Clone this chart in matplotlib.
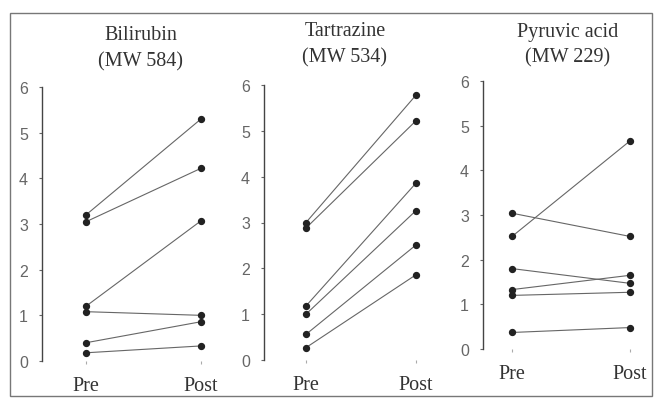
"""
Pre/post paired plots for three compounds (scanned figure recreation).
"""

import matplotlib

matplotlib.use("Agg")
import matplotlib.pyplot as plt
from matplotlib.patches import Rectangle

# Data
titles = [("Bilirubin", "(MW 584)"), ("Tartrazine", "(MW 534)"), ("Pyruvic acid", "(MW 229)")]
x_labels = ["Pre", "Post"]
y_ticks = [0, 1, 2, 3, 4, 5, 6]

bili_pre = [3.2, 3.05, 1.2, 1.08, 0.4, 0.18]
bili_post = [5.3, 4.22, 3.07, 1.0, 0.86, 0.33]

tart_pre = [3.0, 2.88, 1.18, 1.0, 0.56, 0.27]
tart_post = [5.78, 5.22, 3.86, 3.26, 2.51, 1.86]

pyr_pre = [3.04, 2.52, 1.8, 1.33, 1.2, 0.37]
pyr_post = [2.52, 4.66, 1.47, 1.65, 1.27, 0.48]

W, H = 657, 402
fig = plt.figure(figsize=(W / 100, H / 100), dpi=100)
fig.patch.set_facecolor("white")

# panel boxes in pixels: left, right, top, bottom, xlim
panels = [
    (42, 224, 88, 362, (-0.383, 1.20)),
    (264, 438, 86, 361, (-0.382, 1.20)),
    (483, 648, 82, 350, (-0.246, 1.152)),
]
# title placement in pixels: centre x, first line y, second line y
title_pos = [(141, 36, 62), (345, 32, 58), (568, 32, 58)]
series = [(bili_pre, bili_post), (tart_pre, tart_post), (pyr_pre, pyr_post)]

serif = "Liberation Serif"
ink = "#333333"

for (left, right, top, bottom, xlim), (pre, post), (t1, t2), (tx, ty1, ty2) in zip(
        panels, series, titles, title_pos):
    ax = fig.add_axes([left / W, (H - bottom) / H, (right - left) / W, (bottom - top) / H])
    for a, b in zip(pre, post):
        ax.plot([0, 1], [a, b], color="#666666", linewidth=0.8, zorder=2)
    ax.scatter([0] * len(pre), pre, s=18, color="#222222", zorder=3)
    ax.scatter([1] * len(post), post, s=18, color="#222222", zorder=3)

    ax.set_xlim(*xlim)
    ax.set_ylim(0, 6)
    for side in ["top", "right", "bottom"]:
        ax.spines[side].set_visible(False)
    ax.spines["left"].set_color("#444444")
    ax.spines["left"].set_linewidth(1.0)

    ax.set_yticks(y_ticks)
    ax.set_yticklabels([str(t) for t in y_ticks], fontfamily="Liberation Sans",
                       fontsize=11.5, color="#666666")
    ax.tick_params(axis="y", length=2, width=0.8, color="#666666", pad=8)

    ax.set_xticks([0, 1])
    ax.set_xticklabels(x_labels, fontfamily=serif, fontsize=14.5, color=ink)
    ax.tick_params(axis="x", length=2, width=0.8, color="#aaaaaa", pad=9)
    ax.patch.set_alpha(0)

    fig.text(tx / W, 1 - ty1 / H, t1, ha="center", va="center",
             fontfamily=serif, fontsize=14.5, color=ink)
    fig.text(tx / W, 1 - ty2 / H, t2, ha="center", va="center",
             fontfamily=serif, fontsize=14.5, color=ink)

# scanned outer frame
fig.patches.append(Rectangle((10 / W, (H - 397) / H), (652 - 10) / W, (397 - 14) / H,
                             transform=fig.transFigure, fill=False,
                             edgecolor="#777777", linewidth=1.0))

fig.savefig("out.png", dpi=100)
